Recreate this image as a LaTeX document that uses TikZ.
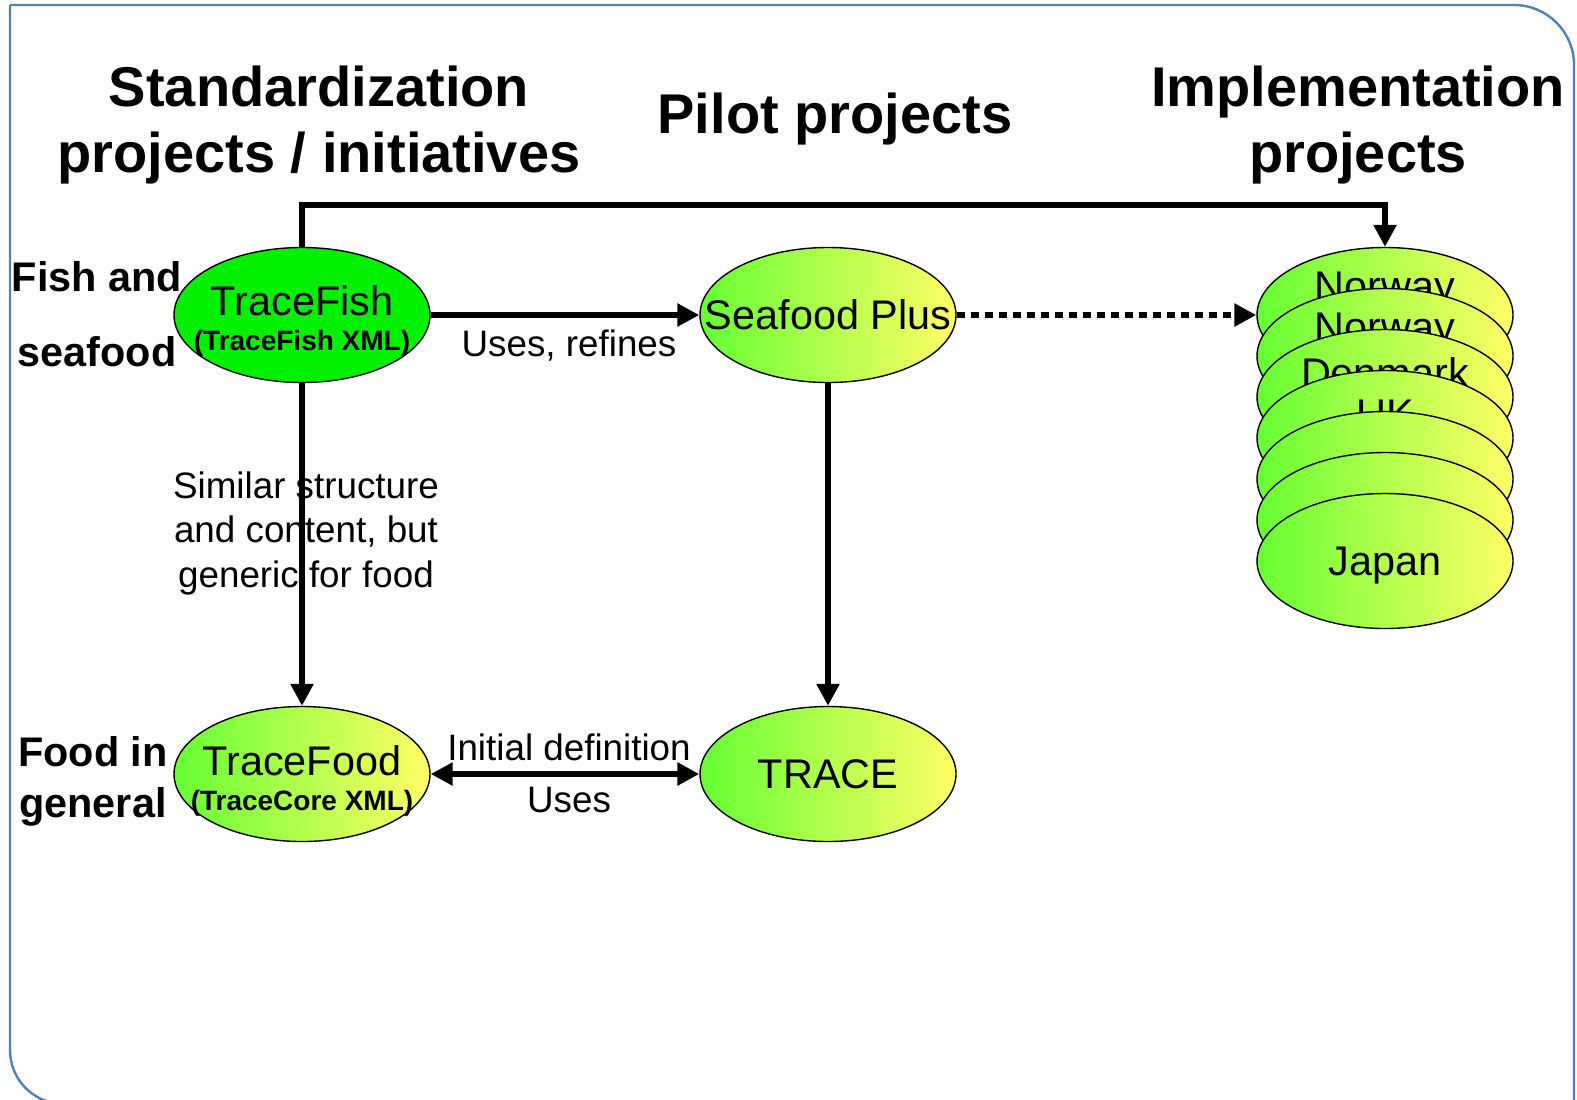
\documentclass[tikz,border=0pt]{standalone}
\usepackage{fontspec}
\setmainfont{Liberation Sans}
\usetikzlibrary{shapes.geometric,arrows.meta}
\definecolor{framecol}{RGB}{79,129,189}
\definecolor{fishgreen}{RGB}{0,240,0}
\definecolor{leafgreen}{RGB}{102,255,51}
\definecolor{paleyellow}{RGB}{255,255,102}
\newcommand\xmlfont{\fontsize{14}{17.5}\selectfont\bfseries}
\tikzset{
  projbase/.style={ellipse,draw=black,line width=0.7pt,minimum width=128pt,minimum height=67.5pt,inner sep=0pt},
  fishnode/.style={projbase,fill=fishgreen},
  fadenode/.style={projbase,left color=leafgreen,right color=paleyellow},
  projtext/.style={font=\fontsize{20.7}{17.5}\selectfont,align=center,inner sep=0pt},
  heading/.style={font=\fontsize{28}{33}\selectfont\bfseries,align=center,inner sep=0pt},
  rowhead/.style={font=\fontsize{20.7}{25.25}\selectfont\bfseries,align=center,inner sep=0pt},
  note/.style={font=\fontsize{18.4}{22.25}\selectfont,align=center,inner sep=0pt},
  flow/.style={line width=3.4pt,-{Triangle[length=11pt,width=11pt]}},
  dotflow/.style={flow,dash pattern=on 4pt off 3pt},
  frameline/.style={draw=framecol,line width=1.2pt},
}
\begin{document}
\begin{tikzpicture}[x=0.5pt,y=0.5pt,yscale=-1,xscale=1]
\useasboundingbox (0,0) rectangle (1577,1099);
% frame
\draw [frameline,rounded corners=30pt] (10,5) -- (1574,5) -- (1574,1120) ;
\draw [frameline,rounded corners=27pt] (10,5) -- (10,1104) -- (150,1104) ;
% column and row headings
\node [heading] (stdhead) at (319,125) {Standardization\\projects / initiatives};
\node [heading] (pilothead) at (835,119.5) {Pilot projects};
\node [heading] (implhead) at (1358,125) {Implementation\\projects};
\node [rowhead] (fishrow) at (97,314) {Fish and\\[12.5pt]seafood};
\node [rowhead] (foodrow) at (93,781.5) {Food in\\general};
% projects
\node [fishnode,label={[projtext,yshift=-2.75pt]center:{TraceFish\\{\xmlfont (TraceFish XML)}}}] (fish) at (302,315) {};
\node [fadenode,label={[projtext]center:Seafood Plus}] (sea) at (828,315) {};
\node [fadenode,label={[projtext,yshift=-3.5pt]center:{TraceFood\\{\xmlfont (TraceCore XML)}}}] (food) at (302,774) {};
\node [fadenode,label={[projtext]center:TRACE}] (trace) at (828,774) {};
% implementation stack
\node [fadenode,label={[projtext,yshift=12pt]center:Norway}] (norway1) at (1385,315) {};
\node [fadenode,label={[projtext,yshift=12pt]center:Norway}] (norway2) at (1385,356) {};
\node [fadenode,label={[projtext,yshift=12pt]center:Denmark}] (denmark) at (1385,397) {};
\node [fadenode,label={[projtext,yshift=12pt]center:UK}] (uk) at (1385,438) {};
\node [fadenode] (impl5) at (1385,479) {};
\node [fadenode] (impl6) at (1385,520) {};
\node [fadenode,label={[projtext,yshift=-2.5pt]center:Japan}] (japan) at (1385,561) {};
% connector labels
\node [note] (similar) at (306,533) {Similar structure\\and content, but\\generic for food};
\node [note] (refines) at (569,346) {Uses, refines};
\node [note] (initdef) at (569,747) {Initial definition};
\node [note] (uses) at (569,800) {Uses};
% connectors
\coordinate (bar) at (0,205);
\draw [flow] (fish.north) -- (fish.north |- bar) -| (norway1.north);
\draw [flow] (fish) -- (sea);
\draw [dotflow] (sea) -- (norway1.west);
\draw [flow] (fish) -- (food);
\draw [flow] (sea) -- (trace);
\draw [flow,{Triangle[length=11pt,width=11pt]}-{Triangle[length=11pt,width=11pt]}] (food) -- (trace);
\end{tikzpicture}
\end{document}
